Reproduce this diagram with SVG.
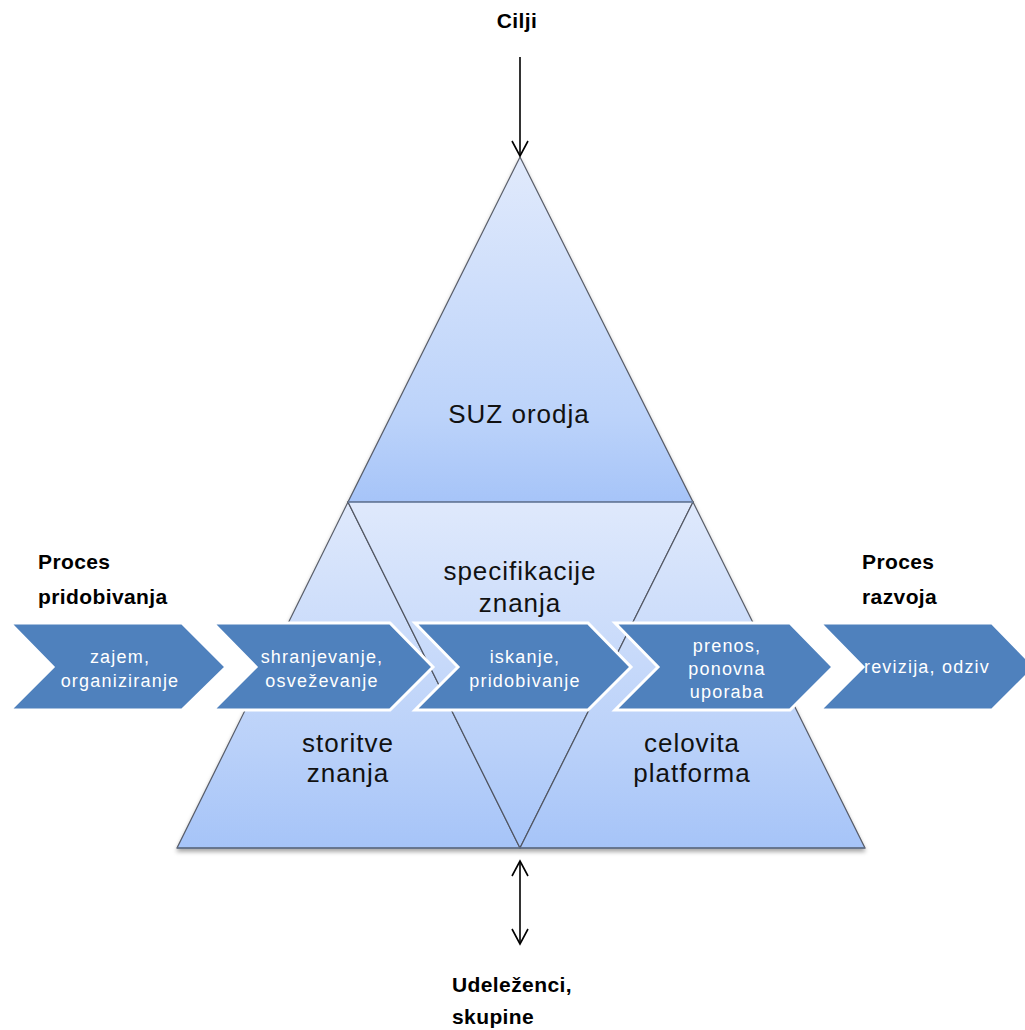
<svg xmlns="http://www.w3.org/2000/svg" width="1025" height="1030" viewBox="0 0 1025 1030">
<defs>
<linearGradient id="gTop" gradientUnits="userSpaceOnUse" x1="0" y1="157" x2="0" y2="502">
<stop offset="0" stop-color="#e1eafc"/><stop offset="0.75" stop-color="#bcd3fa"/><stop offset="1" stop-color="#a6c4f8"/>
</linearGradient>
<linearGradient id="gLow" gradientUnits="userSpaceOnUse" x1="0" y1="502" x2="0" y2="848">
<stop offset="0" stop-color="#dfe9fc"/><stop offset="0.7" stop-color="#bad1f9"/><stop offset="1" stop-color="#a6c4f8"/>
</linearGradient>
<filter id="sh" x="-10%" y="-10%" width="120%" height="130%">
<feDropShadow dx="0" dy="3" stdDeviation="2" flood-color="#000" flood-opacity="0.35"/>
</filter>
<marker id="v" markerUnits="userSpaceOnUse" markerWidth="20" markerHeight="20" viewBox="0 0 20 20" refX="17" refY="10" orient="auto-start-reverse">
<path d="M2,2 L17,10 L2,18" fill="none" stroke="#000" stroke-width="1.6"/>
</marker>
<style>
.tri{stroke:#4a4f5a;stroke-width:1.2;stroke-opacity:0.9}
.chev{fill:#4f81bd;stroke:#ffffff;stroke-width:3;stroke-linejoin:miter}
.ct{font-family:"Liberation Sans",Arial,sans-serif;font-size:18px;letter-spacing:1.2px;fill:#ffffff;text-anchor:middle}
.tt{font-family:"Liberation Sans",Arial,sans-serif;font-size:26px;letter-spacing:1px;fill:#111111;text-anchor:middle}
.bt{font-family:"Liberation Sans",Arial,sans-serif;font-size:21px;font-weight:bold;letter-spacing:0.4px;fill:#000000}
.ar{stroke:#000;stroke-width:1.6;fill:none}
</style>
</defs>
<rect width="1025" height="1030" fill="#ffffff"/>

<g id="pyramid" filter="url(#sh)">
<g id="tri-top"><polygon class="tri" points="520,157 693,502 348,502" fill="url(#gTop)"/></g>
<g id="tri-left"><polygon class="tri" points="348,502 520,848 177,848" fill="url(#gLow)"/></g>
<g id="tri-mid"><polygon class="tri" points="348,502 693,502 520,848" fill="url(#gLow)"/></g>
<g id="tri-right"><polygon class="tri" points="693,502 865,848 520,848" fill="url(#gLow)"/></g>
<line x1="348" y1="502" x2="693" y2="502" stroke="#6f86aa" stroke-width="1.5"/>
<line x1="177" y1="848" x2="865" y2="848" stroke="#5f6f88" stroke-width="1.5"/>
</g>

<g id="connectors">
<line class="ar" x1="520" y1="57" x2="520" y2="156" marker-end="url(#v)"/>
<line class="ar" x1="520" y1="861" x2="520" y2="944" marker-start="url(#v)" marker-end="url(#v)"/>
</g>

<g id="chev1"><polygon class="chev" points="10,623 182,623 226,667 182,710 10,710 53,667"/>
<text class="ct" x="120" y="663">zajem,</text><text class="ct" x="120" y="687">organiziranje</text></g>
<g id="chev2"><polygon class="chev" points="213,623 390,623 433,667 390,710 213,710 256,667"/>
<text class="ct" x="322" y="663">shranjevanje,</text><text class="ct" x="322" y="687">osveževanje</text></g>
<g id="chev3"><polygon class="chev" points="415,623 588,623 631,667 588,710 415,710 458,667"/>
<text class="ct" x="525" y="663">iskanje,</text><text class="ct" x="525" y="687">pridobivanje</text></g>
<g id="chev4"><polygon class="chev" points="615,623 790,623 833,667 790,710 615,710 658,667"/>
<text class="ct" x="727" y="652">prenos,</text><text class="ct" x="727" y="675">ponovna</text><text class="ct" x="727" y="698">uporaba</text></g>
<g id="chev5"><polygon class="chev" points="820,623 992,623 1035,667 992,710 820,710 863,667"/>
<text class="ct" x="927" y="673">revizija, odziv</text></g>

<g id="labels">
<text class="tt" x="519" y="423">SUZ orodja</text>
<text class="tt" x="520" y="580">specifikacije</text>
<text class="tt" x="520" y="612">znanja</text>
<text class="tt" x="348" y="752">storitve</text>
<text class="tt" x="348" y="782">znanja</text>
<text class="tt" x="692" y="752">celovita</text>
<text class="tt" x="692" y="782">platforma</text>
</g>

<g id="side-labels">
<text class="bt" x="517" y="28" text-anchor="middle">Cilji</text>
<text class="bt" x="38" y="569">Proces</text>
<text class="bt" x="38" y="604">pridobivanja</text>
<text class="bt" x="862" y="569">Proces</text>
<text class="bt" x="862" y="604">razvoja</text>
<text class="bt" x="452" y="992">Udeleženci,</text>
<text class="bt" x="452" y="1024">skupine</text>
</g>
</svg>
